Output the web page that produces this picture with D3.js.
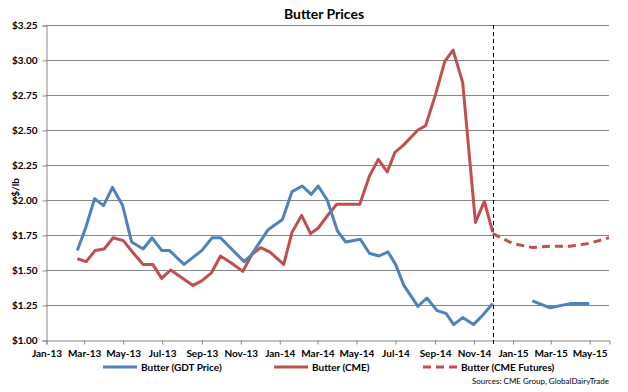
<!DOCTYPE html>
<html>
<head>
<meta charset="utf-8">
<script src="https://cdn.jsdelivr.net/npm/d3@7"></script>
<style>
  body { margin: 0; background: #fff; }
  svg text { font-family: Lato, "Open Sans", sans-serif; fill: #000; }
</style>
</head>
<body>
<div id="chart"></div>
<script>
// GDT auction prices ($/lb), null marks the gap before the 2015 values
var gdtDates = ["2013-02-19","2013-03-04","2013-03-18","2013-04-01","2013-04-15","2013-05-01",
  "2013-05-15","2013-06-02","2013-06-16","2013-07-01","2013-07-13","2013-08-05","2013-09-02",
  "2013-09-18","2013-10-01","2013-11-07","2013-11-17","2013-12-15","2014-01-06","2014-01-21",
  "2014-02-06","2014-02-20","2014-03-03","2014-03-17","2014-04-02","2014-04-15","2014-05-08",
  "2014-05-22","2014-06-06","2014-06-20","2014-07-02","2014-07-15","2014-08-06","2014-08-20",
  "2014-09-05","2014-09-19","2014-10-01","2014-10-15","2014-11-01","2014-11-16","2014-12-01",
  "2015-01-01","2015-02-01","2015-03-01","2015-04-01","2015-05-01"];
var gdtValues = [1.64,1.80,2.01,1.96,2.09,1.96,
  1.70,1.65,1.73,1.64,1.64,1.54,1.64,
  1.73,1.73,1.56,1.60,1.79,1.86,2.06,
  2.10,2.04,2.10,2.00,1.78,1.70,1.72,
  1.62,1.60,1.63,1.54,1.39,1.24,1.30,
  1.21,1.19,1.11,1.16,1.11,1.18,1.26,
  null,1.28,1.23,1.26,1.26];

// CME spot butter ($/lb)
var cmeDates = ["2013-02-19","2013-03-05","2013-03-19","2013-04-02","2013-04-16","2013-05-02",
  "2013-05-16","2013-06-02","2013-06-17","2013-07-01","2013-07-15","2013-08-19","2013-09-01",
  "2013-09-17","2013-10-01","2013-10-18","2013-11-05","2013-11-19","2013-12-03","2013-12-17",
  "2014-01-08","2014-01-21","2014-02-05","2014-02-19","2014-03-03","2014-03-16","2014-04-01",
  "2014-05-07","2014-05-22","2014-06-05","2014-06-19","2014-07-01","2014-07-14","2014-08-06",
  "2014-08-18","2014-09-03","2014-09-17","2014-09-30","2014-10-15","2014-11-04","2014-11-18",
  "2014-12-01"];
var cmeValues = [1.58,1.56,1.64,1.65,1.73,1.71,
  1.63,1.54,1.54,1.44,1.50,1.39,1.42,
  1.48,1.60,1.55,1.49,1.61,1.66,1.63,
  1.54,1.77,1.89,1.76,1.80,1.88,1.97,
  1.97,2.17,2.29,2.20,2.34,2.39,2.50,
  2.53,2.76,2.99,3.07,2.84,1.84,1.99,
  1.77];

// CME futures ($/lb)
var futDates = ["2014-12-01","2015-01-01","2015-02-01","2015-03-01","2015-04-01","2015-05-01","2015-06-01"];
var futValues = [1.76,1.69,1.66,1.67,1.67,1.69,1.73];

var yTicks = [1.00,1.25,1.50,1.75,2.00,2.25,2.50,2.75,3.00,3.25];
var seriesNames = ["Butter (GDT Price)","Butter (CME)","Butter (CME Futures)"];
var seriesColors = ["#4F81BD","#C0504D","#C0504D"];
var cutoffDate = "2014-12-01";

var width = 628, height = 392;
var plotLeft = 46, plotRight = 609, plotTop = 25, plotBottom = 340;
var parse = d3.timeParse("%Y-%m-%d");

var svg = d3.select("#chart").append("svg")
    .attr("width", width)
    .attr("height", height);

var x = d3.scaleTime()
    .domain([parse("2013-01-01"), parse("2015-06-01")])
    .range([plotLeft, plotRight]);

var y = d3.scaleLinear()
    .domain([1, 3.25])
    .range([plotBottom, plotTop]);

/* gridlines */
svg.append("g")
    .selectAll("line")
    .data(yTicks.slice(1))
    .enter()
    .append("line")
    .attr("x1", plotLeft).attr("x2", plotRight)
    .attr("y1", d => Math.round(y(d)) + 0.5).attr("y2", d => Math.round(y(d)) + 0.5)
    .attr("stroke", "#868686")
    .attr("stroke-width", 1);

/* axes */
var yAxis = d3.axisLeft(y)
    .tickValues(yTicks)
    .tickFormat(d3.format("$.2f"))
    .tickSize(4)
    .tickPadding(5);

svg.append("g")
    .attr("transform", "translate(" + (plotLeft + 0.5) + ",0.5)")
    .call(yAxis)
    .call(g => g.selectAll("line, path").attr("stroke", "#868686"))
    .call(g => g.selectAll("text").attr("font-size", "10px").attr("font-weight", "bold"));

var xAxis = d3.axisBottom(x)
    .ticks(d3.timeMonth.every(2))
    .tickFormat(d3.timeFormat("%b-%y"))
    .tickSize(4)
    .tickPadding(5);

svg.append("g")
    .attr("transform", "translate(0.5," + (plotBottom + 0.5) + ")")
    .call(xAxis)
    .call(g => g.selectAll("line, path").attr("stroke", "#868686"))
    .call(g => g.selectAll("text").attr("font-size", "10px").attr("font-weight", "bold"));

/* y axis title */
svg.append("text")
    .attr("transform", "translate(15," + ((plotTop + plotBottom) / 2 + 5) + ") rotate(-90)")
    .attr("text-anchor", "middle")
    .attr("dominant-baseline", "central")
    .attr("font-size", "10px")
    .attr("font-weight", "bold")
    .text("$/lb");

/* title */
svg.append("text")
    .attr("x", 324)
    .attr("y", 19)
    .attr("text-anchor", "middle")
    .attr("font-size", "14px")
    .attr("font-weight", "bold")
    .text("Butter Prices");

/* vertical cutoff line */
var cutX = Math.round(x(parse(cutoffDate))) + 0.5;
svg.append("line")
    .attr("x1", cutX)
    .attr("x2", cutX)
    .attr("y1", plotTop)
    .attr("y2", plotBottom + 5)
    .attr("stroke", "#000")
    .attr("stroke-width", 1)
    .attr("stroke-dasharray", "4,3");

/* lines */
var line = d3.line()
    .defined(d => d[1] !== null)
    .x(d => x(parse(d[0])))
    .y(d => y(d[1]));

var gdt = d3.zip(gdtDates, gdtValues);
var cme = d3.zip(cmeDates, cmeValues);
var fut = d3.zip(futDates, futValues);

svg.append("path")
    .datum(fut)
    .attr("d", line)
    .attr("fill", "none")
    .attr("stroke", seriesColors[2])
    .attr("stroke-width", 3)
    .attr("stroke-dasharray", "8,5");

svg.append("path")
    .datum(cme)
    .attr("d", line)
    .attr("fill", "none")
    .attr("stroke", seriesColors[1])
    .attr("stroke-width", 3)
    .attr("stroke-linejoin", "round");

svg.append("path")
    .datum(gdt)
    .attr("d", line)
    .attr("fill", "none")
    .attr("stroke", seriesColors[0])
    .attr("stroke-width", 3)
    .attr("stroke-linejoin", "round");

/* legend */
var legendX = [103, 274, 423];
var legendY = 367;
var legend = svg.append("g");
seriesNames.forEach(function(name, i){
    legend.append("line")
        .attr("x1", legendX[i]).attr("x2", legendX[i] + 34)
        .attr("y1", legendY).attr("y2", legendY)
        .attr("stroke", seriesColors[i])
        .attr("stroke-width", 3)
        .attr("stroke-dasharray", i == 2 ? "8,5" : null);
    legend.append("text")
        .attr("x", legendX[i] + 38)
        .attr("y", legendY)
        .attr("dominant-baseline", "central")
        .attr("font-size", "10px")
        .attr("font-weight", "bold")
        .text(name);
});

svg.append("text")
    .attr("x", 609)
    .attr("y", 381)
    .attr("text-anchor", "end")
    .attr("dominant-baseline", "central")
    .attr("font-size", "8px")
    .text("Sources:  CME Group, GlobalDairyTrade");
</script>
</body>
</html>
